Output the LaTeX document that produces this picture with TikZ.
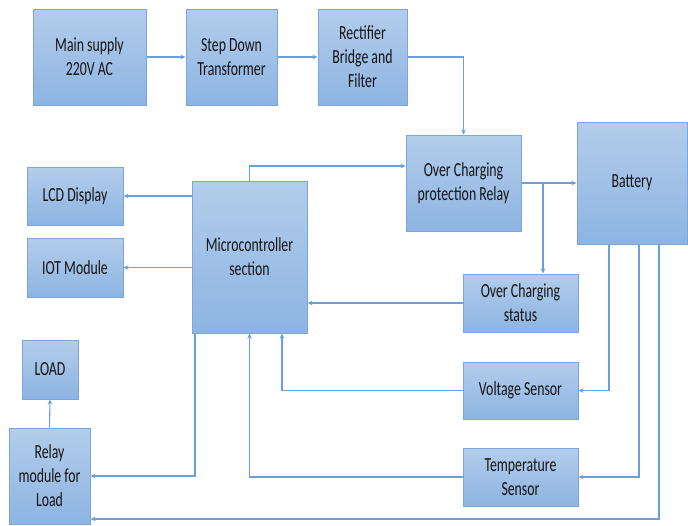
\documentclass[tikz,border=0pt]{standalone}
\usepackage{fontspec}
\setmainfont{Carlito}[FakeStretch=0.69]
\usetikzlibrary{arrows.meta}
\definecolor{boxtop}{HTML}{B3CDEB}
\definecolor{boxbot}{HTML}{8DB4E2}
\definecolor{boxline}{HTML}{7AA6DA}
\definecolor{wire}{HTML}{6A9FDB}
\definecolor{txt}{HTML}{141414}
\tikzset{
  blk/.style={draw=boxline, line width=1pt, top color=boxtop, bottom color=boxbot,
    align=center, inner sep=2pt, text=txt,
    font=\fontsize{20}{24}\selectfont},
  arr/.style={draw=wire, line width=1.1pt, -{Stealth[length=5pt,width=4.5pt]}},
  wln/.style={draw=wire, line width=1.1pt}
}
\begin{document}
\begin{tikzpicture}[x=1pt,y=-1pt]
\useasboundingbox (0,0) rectangle (688,525);
% top row
\node[blk, minimum width=113pt, minimum height=96pt] (main) at (89.5,57) {Main supply\\220V AC};
\node[blk, minimum width=91pt, minimum height=96pt] (step) at (231.5,57) {Step Down\\Transformer};
\node[blk, minimum width=89pt, minimum height=96pt] (rect) at (362.5,57) {Rectifier\\Bridge and\\Filter};
% relay and battery
\node[blk, minimum width=115pt, minimum height=96pt] (ocr) at (463.5,183) {Over Charging\\protection Relay};
\node[blk, minimum width=110pt, minimum height=122pt] (bat) at (632,183) {Battery};
% sensors
\node[blk, minimum width=115pt, minimum height=58pt] (ocs) at (520.5,303) {Over Charging\\status};
\node[blk, minimum width=115pt, minimum height=57pt] (vs) at (520.5,390.5) {Voltage Sensor};
\node[blk, minimum width=115pt, minimum height=58pt] (ts) at (520.5,477) {Temperature\\Sensor};
% left side
\node[blk, minimum width=96pt, minimum height=58pt] (lcd) at (75,196) {LCD Display};
\node[blk, minimum width=96pt, minimum height=59pt] (iot) at (75,267.5) {IOT Module};
\node[blk, minimum width=115pt, minimum height=152pt] (mcu) at (249.5,257) {Microcontroller\\section};
\node[blk, minimum width=56pt, minimum height=59pt] (load) at (50,369.5) {LOAD};
\node[blk, minimum width=81pt, minimum height=96pt] (relay) at (49.5,476) {Relay\\module for\\Load};
% connectors
\draw[arr] (main.east) -- (step.west);
\draw[arr] (step.east) -- (rect.west);
\draw[arr] (rect.east) -| (ocr.north);
\draw[arr] (mcu.north) |- ([yshift=17pt]ocr.west);
\draw[arr] (ocr.east) -- (bat.west);
\coordinate (br) at (543,183);
\draw[arr] (br) -- (br |- ocs.north);
\draw[arr] (ocs.west) -- (ocs.west -| mcu.east);
\draw[arr] (vs.west) -| ([xshift=32.5pt]mcu.south);
\draw[arr] (ts.west) -| (mcu.south);
\draw[arr] ([xshift=-54.5pt]mcu.south) |- (relay.east);
\draw[arr] (relay.north) -- (load.south);
\draw[arr] (mcu.west |- lcd.east) -- (lcd.east);
\draw[arr] (mcu.west |- iot.east) -- (iot.east);
\draw[arr] ([xshift=-23pt]bat.south) |- (vs.east);
\draw[arr] ([xshift=7pt]bat.south) |- (ts.east);
\draw[arr] ([xshift=27pt]bat.south) |- ([yshift=-43pt]relay.east);
\end{tikzpicture}
\end{document}
